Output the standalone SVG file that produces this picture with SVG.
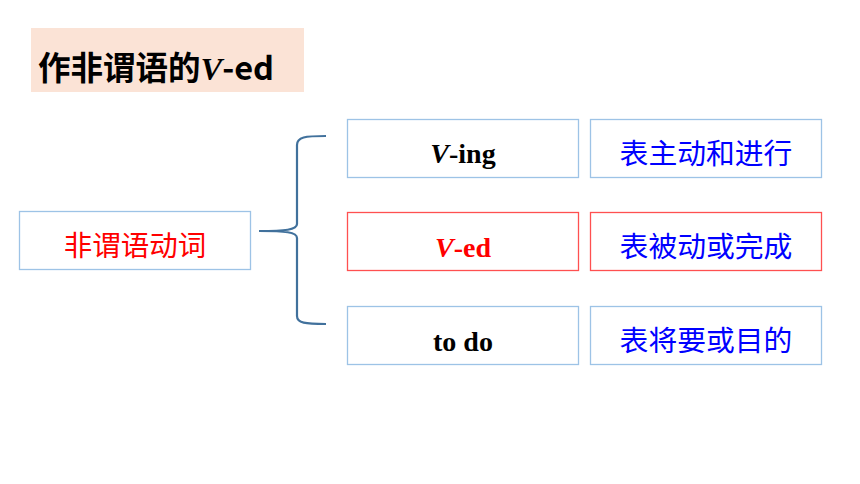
<svg xmlns="http://www.w3.org/2000/svg" width="860" height="484" viewBox="0 0 860 484">
<style>
.box{fill:#fff;stroke:#9DC3E6;stroke-width:1.3}
.rbox{fill:#fff;stroke:#FF5050;stroke-width:1.3}
.en{font-family:"Liberation Serif",serif;font-weight:bold;font-size:28px;text-anchor:middle}
.cn{font-family:"Noto Sans CJK SC",sans-serif;font-size:28.8px;text-anchor:middle;fill:#0000FF}
.brace{fill:none;stroke:#41719C;stroke-width:2.2}
</style>
<rect width="860" height="484" fill="#fff"/>
<g id="title">
<rect x="31" y="28" width="273" height="64" fill="#FBE3D6"/>
<text x="38" y="80" font-family="Noto Sans CJK SC,sans-serif" font-weight="bold" font-size="32.5" fill="#000">作非谓语的<tspan font-family="Liberation Serif,serif" font-style="italic">V</tspan>-ed</text>
</g>
<g id="root">
<rect class="box" x="19.5" y="211.5" width="231" height="58"/>
<text class="cn" x="135" y="256" style="fill:#FF0000;font-size:28.5px">非谓语动词</text>
</g>
<g id="connectors">
<path class="brace" d="M326,136 C305,136 297,137 297,145 L297,224 C297,230 285,231 259,231 C285,231 297,232 297,238 L297,316 C297,323 305,324 326,324"/>
</g>
<g id="ving">
<rect class="box" x="347.5" y="119.5" width="231" height="58"/>
<text class="en" x="463" y="163" fill="#000"><tspan font-style="italic">V</tspan>-ing</text>
</g>
<g id="ving-meaning">
<rect class="box" x="590.5" y="119.5" width="231" height="58"/>
<text class="cn" x="706" y="164">表主动和进行</text>
</g>
<g id="ved">
<rect class="rbox" x="347.5" y="212.5" width="231" height="58"/>
<text class="en" x="463" y="257" fill="#FF0000"><tspan font-style="italic">V</tspan>-ed</text>
</g>
<g id="ved-meaning">
<rect class="rbox" x="590.5" y="212.5" width="231" height="58"/>
<text class="cn" x="706" y="257">表被动或完成</text>
</g>
<g id="todo">
<rect class="box" x="347.5" y="306.5" width="231" height="58"/>
<text class="en" x="463" y="351" fill="#000">to do</text>
</g>
<g id="todo-meaning">
<rect class="box" x="590.5" y="306.5" width="231" height="58"/>
<text class="cn" x="706" y="351">表将要或目的</text>
</g>
</svg>
